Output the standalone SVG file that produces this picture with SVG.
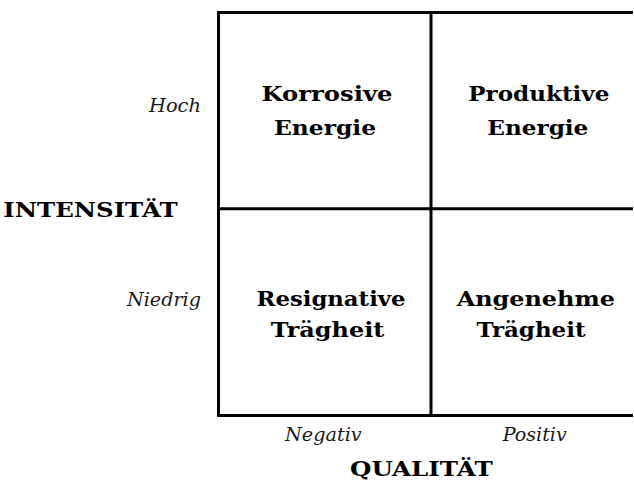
<svg xmlns="http://www.w3.org/2000/svg" width="634" height="484" viewBox="0 0 634 484">
<style>
.cell{font-family:"DejaVu Serif","Liberation Serif",serif;font-weight:bold;font-size:20px;fill:#000;text-anchor:middle}
.axis{font-family:"DejaVu Serif","Liberation Serif",serif;font-weight:bold;font-size:21px;fill:#000}
.lab{font-family:"DejaVu Serif","Liberation Serif",serif;font-style:italic;font-size:18px;fill:#1a1a1a}
.grid{stroke:#000;stroke-width:3;fill:none}
</style>
<rect width="634" height="484" fill="#fff"/>
<g id="connectors">
<path class="grid" d="M633,12.5 H218.5 V415.5 H633 M431,12.5 V415.5 M218.5,208.7 H633"/>
</g>
<g id="korrosive">
<text class="cell" x="327" y="100.7" textLength="131" lengthAdjust="spacingAndGlyphs">Korrosive</text>
<text class="cell" x="325" y="135" textLength="102" lengthAdjust="spacingAndGlyphs">Energie</text>
</g>
<g id="produktive">
<text class="cell" x="538.8" y="100.7" textLength="141" lengthAdjust="spacingAndGlyphs">Produktive</text>
<text class="cell" x="537.8" y="135" textLength="101" lengthAdjust="spacingAndGlyphs">Energie</text>
</g>
<g id="resignative">
<text class="cell" x="331" y="306" textLength="149" lengthAdjust="spacingAndGlyphs">Resignative</text>
<text class="cell" x="327.5" y="336.7" textLength="113.6" lengthAdjust="spacingAndGlyphs">Trägheit</text>
</g>
<g id="angenehme">
<text class="cell" x="535.8" y="306" textLength="158.3" lengthAdjust="spacingAndGlyphs">Angenehme</text>
<text class="cell" x="531" y="336.7" textLength="109" lengthAdjust="spacingAndGlyphs">Trägheit</text>
</g>
<g id="y-axis">
<text class="lab" x="149" y="111.7" textLength="52" lengthAdjust="spacingAndGlyphs">Hoch</text>
<text class="axis" x="3.3" y="216.7" textLength="174.4" lengthAdjust="spacingAndGlyphs">INTENSITÄT</text>
<text class="lab" x="127" y="306" textLength="74" lengthAdjust="spacingAndGlyphs">Niedrig</text>
</g>
<g id="x-axis">
<text class="lab" x="285" y="440.7" textLength="76.7" lengthAdjust="spacingAndGlyphs">Negativ</text>
<text class="lab" x="502.7" y="440.7" textLength="64" lengthAdjust="spacingAndGlyphs">Positiv</text>
<text class="axis" x="350" y="476" textLength="142.7" lengthAdjust="spacingAndGlyphs">QUALITÄT</text>
</g>
</svg>
